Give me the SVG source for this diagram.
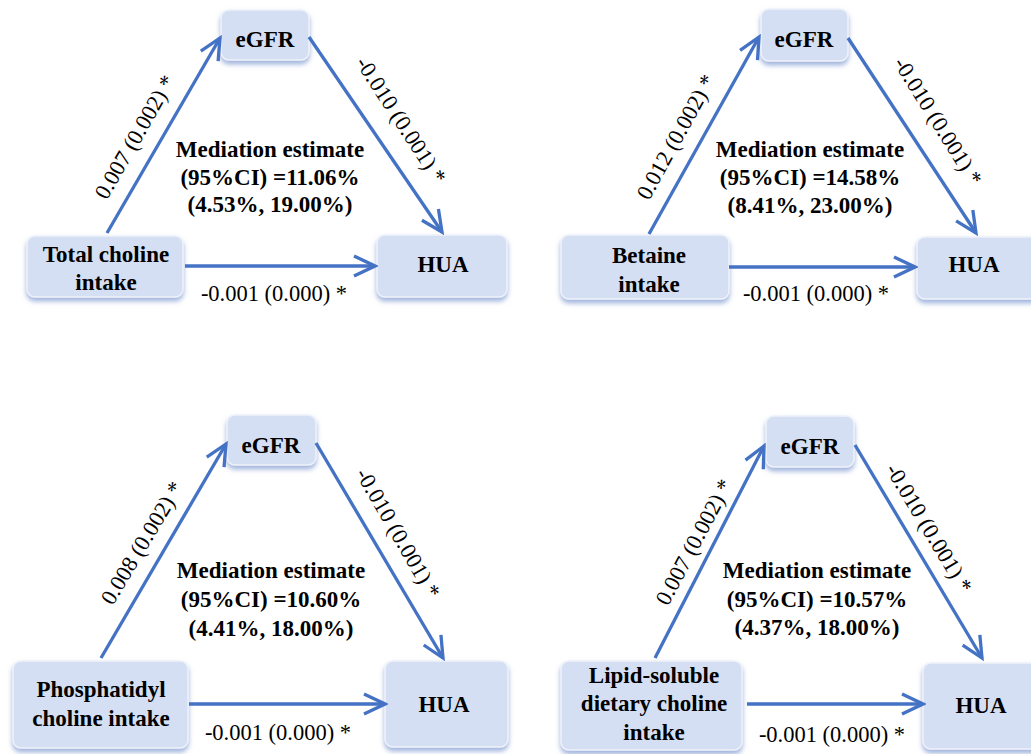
<svg xmlns="http://www.w3.org/2000/svg" width="1031" height="754" viewBox="0 0 1031 754">
<style>
.box{fill:#D5DFF3;stroke:#EEF2FA;stroke-width:1.5;filter:url(#sh)}
.nt{font-family:"Liberation Serif","Times New Roman",serif;font-weight:bold;font-size:23px;fill:#000;text-anchor:middle}
.et{font-family:"Liberation Serif","Times New Roman",serif;font-size:22.5px;fill:#000;text-anchor:middle}
.rt{font-family:"Liberation Serif","Times New Roman",serif;font-size:22.5px;fill:#000;text-anchor:middle;dominant-baseline:central}
.mt{font-family:"Liberation Serif","Times New Roman",serif;font-weight:bold;font-size:23px;fill:#000;text-anchor:middle}
.c{stroke:#4472C4;stroke-width:3.3;fill:none;marker-end:url(#ah)}
</style>
<defs>
<filter id="sh" x="-20%" y="-20%" width="140%" height="160%">
<feDropShadow dx="0" dy="3.5" stdDeviation="2.8" flood-color="#7F99D0" flood-opacity="0.75"/>
</filter>
<marker id="ah" markerUnits="userSpaceOnUse" viewBox="-24 -13 27 26" refX="0" refY="0" markerWidth="27" markerHeight="26" orient="auto">
<path d="M-21,-10 L0,0 L-21,10" fill="none" stroke="#4472C4" stroke-width="3.3"/>
</marker>
</defs>
<rect width="1031" height="754" fill="#FFFFFF"/>

<!-- Panel 1 -->
<g id="p1-egfr"><rect class="box" x="221" y="10" width="88" height="50" rx="8"/><text class="nt" x="265" y="47">eGFR</text></g>
<g id="p1-total"><rect class="box" x="27" y="236" width="156" height="61" rx="8"/><text class="nt" x="106" y="262">Total choline</text><text class="nt" x="106" y="290">intake</text></g>
<g id="p1-hua"><rect class="box" x="377" y="235" width="130" height="62" rx="8"/><text class="nt" x="443" y="272">HUA</text></g>

<!-- Panel 2 -->
<g id="p2-egfr"><rect class="box" x="761" y="9" width="87" height="52" rx="8"/><text class="nt" x="804" y="47">eGFR</text></g>
<g id="p2-betaine"><rect class="box" x="561" y="235" width="168" height="64" rx="8"/><text class="nt" x="649" y="263">Betaine</text><text class="nt" x="649" y="292">intake</text></g>
<g id="p2-hua"><rect class="box" x="917" y="237" width="130" height="62" rx="8"/><text class="nt" x="974" y="272">HUA</text></g>

<!-- Panel 3 -->
<g id="p3-egfr"><rect class="box" x="227" y="415" width="89" height="50" rx="8"/><text class="nt" x="271" y="453">eGFR</text></g>
<g id="p3-phos"><rect class="box" x="13" y="661" width="175" height="87" rx="8"/><text class="nt" x="101" y="697">Phosphatidyl</text><text class="nt" x="101" y="726">choline intake</text></g>
<g id="p3-hua"><rect class="box" x="385" y="661" width="123" height="86" rx="8"/><text class="nt" x="444" y="712">HUA</text></g>

<!-- Panel 4 -->
<g id="p4-egfr"><rect class="box" x="766" y="416" width="88" height="51" rx="8"/><text class="nt" x="810" y="454">eGFR</text></g>
<g id="p4-lipid"><rect class="box" x="561" y="661" width="181" height="89" rx="8"/><text class="nt" x="654" y="683">Lipid-soluble</text><text class="nt" x="654" y="711">dietary choline</text><text class="nt" x="654" y="740">intake</text></g>
<g id="p4-hua"><rect class="box" x="923" y="663" width="130" height="86" rx="8"/><text class="nt" x="981" y="713">HUA</text></g>

<g id="connectors">
<line class="c" x1="107" y1="233" x2="220" y2="38"/>
<line class="c" x1="309" y1="37" x2="442" y2="232"/>
<line class="c" x1="185" y1="266" x2="375" y2="266"/>

<line class="c" x1="649" y1="234" x2="759" y2="37"/>
<line class="c" x1="848" y1="38" x2="976" y2="233"/>
<line class="c" x1="729" y1="267" x2="915" y2="267"/>

<line class="c" x1="101" y1="658" x2="226" y2="444"/>
<line class="c" x1="316" y1="443" x2="443" y2="658"/>
<line class="c" x1="189" y1="704" x2="385" y2="704"/>

<line class="c" x1="655" y1="658" x2="764" y2="446"/>
<line class="c" x1="855" y1="445" x2="982" y2="658"/>
<line class="c" x1="747" y1="704" x2="923" y2="704"/>
</g>

<g id="edge-labels">
<text class="rt" transform="translate(135,137) rotate(-60)">0.007 (0.002) *</text>
<text class="rt" transform="translate(401,120) rotate(57)">-0.010 (0.001) *</text>
<text class="et" x="274" y="301">-0.001 (0.000) *</text>

<text class="rt" transform="translate(676,137) rotate(-61)">0.012 (0.002) *</text>
<text class="rt" transform="translate(938,121) rotate(58)">-0.010 (0.001) *</text>
<text class="et" x="816" y="301">-0.001 (0.000) *</text>

<text class="rt" transform="translate(142,543) rotate(-59)">0.008 (0.002) *</text>
<text class="rt" transform="translate(398,533) rotate(60)">-0.010 (0.001) *</text>
<text class="et" x="278" y="740">-0.001 (0.000) *</text>

<text class="rt" transform="translate(694,542) rotate(-62)">0.007 (0.002) *</text>
<text class="rt" transform="translate(929,528) rotate(59)">-0.010 (0.001) *</text>
<text class="et" x="832" y="742">-0.001 (0.000) *</text>
</g>

<g id="mediation">
<text class="mt" x="270" y="157">Mediation estimate</text>
<text class="mt" x="270" y="185">(95%CI) =11.06%</text>
<text class="mt" x="270" y="212">(4.53%, 19.00%)</text>

<text class="mt" x="810" y="157">Mediation estimate</text>
<text class="mt" x="810" y="185">(95%CI) =14.58%</text>
<text class="mt" x="810" y="213">(8.41%, 23.00%)</text>

<text class="mt" x="271" y="578">Mediation estimate</text>
<text class="mt" x="271" y="607">(95%CI) =10.60%</text>
<text class="mt" x="271" y="636">(4.41%, 18.00%)</text>

<text class="mt" x="817" y="578">Mediation estimate</text>
<text class="mt" x="817" y="607">(95%CI) =10.57%</text>
<text class="mt" x="817" y="635">(4.37%, 18.00%)</text>
</g>
</svg>
